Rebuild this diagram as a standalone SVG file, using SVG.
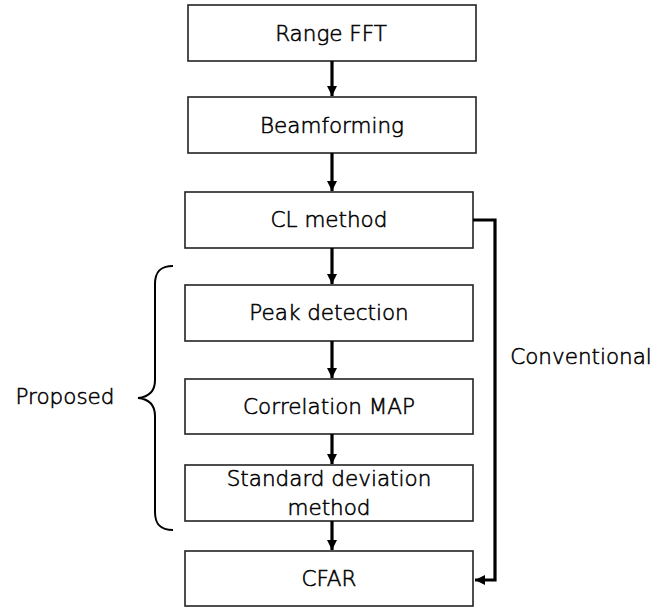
<svg xmlns="http://www.w3.org/2000/svg" width="669" height="608" viewBox="0 0 669 608">
<style>
.box{fill:#fff;stroke:#222;stroke-width:1.6}
.t{font-family:"DejaVu Sans","Noto Sans",sans-serif;font-weight:300;font-size:21.5px;fill:#000;stroke:#000;stroke-width:0.55;text-anchor:middle;dominant-baseline:central}
.c{fill:none;stroke:#000;stroke-width:3.2}
.br{fill:none;stroke:#000;stroke-width:2}
</style>
<defs>
<marker id="ah" viewBox="0 0 10 10" refX="10" refY="5" markerWidth="10" markerHeight="10" markerUnits="userSpaceOnUse" orient="auto">
<path d="M0,0 L10,5 L0,10 z" fill="#000"/>
</marker>
</defs>
<rect width="669" height="608" fill="#fff"/>
<g id="n1"><rect class="box" x="188" y="5" width="288" height="56"/><text class="t" x="331" y="33">Range FFT</text></g>
<g id="n2"><rect class="box" x="188" y="97" width="288" height="56"/><text class="t" x="332" y="125">Beamforming</text></g>
<g id="n3"><rect class="box" x="185" y="192" width="288" height="56"/><text class="t" x="329" y="219">CL method</text></g>
<g id="n4"><rect class="box" x="185" y="285" width="288" height="56"/><text class="t" x="329" y="312">Peak detection</text></g>
<g id="n5"><rect class="box" x="185" y="379" width="288" height="55"/><text class="t" x="329" y="406">Correlation MAP</text></g>
<g id="n6"><rect class="box" x="185" y="465" width="288" height="56"/><text class="t" x="329" y="478">Standard deviation</text><text class="t" x="329" y="507">method</text></g>
<g id="n7"><rect class="box" x="185" y="551" width="288" height="55"/><text class="t" x="329" y="578">CFAR</text></g>
<g id="connectors">
<line class="c" x1="332" y1="61" x2="332" y2="96" marker-end="url(#ah)"/>
<line class="c" x1="332" y1="153" x2="332" y2="191" marker-end="url(#ah)"/>
<line class="c" x1="332" y1="248" x2="332" y2="284" marker-end="url(#ah)"/>
<line class="c" x1="332" y1="341" x2="332" y2="378" marker-end="url(#ah)"/>
<line class="c" x1="332" y1="434" x2="332" y2="464" marker-end="url(#ah)"/>
<line class="c" x1="332" y1="521" x2="332" y2="550" marker-end="url(#ah)"/>
<path class="c" d="M473,220 H495 V580 H475" marker-end="url(#ah)"/>
</g>
<g id="brace">
<path class="br" d="M173,266 C160,266 155,272 155,284 V380 C155,392 148,397 138,398 C148,399 155,404 155,416 V512 C155,524 160,530 173,530"/>
<text class="t" x="65" y="396">Proposed</text>
</g>
<g id="label-conv"><text class="t" x="581" y="356">Conventional</text></g>
</svg>
